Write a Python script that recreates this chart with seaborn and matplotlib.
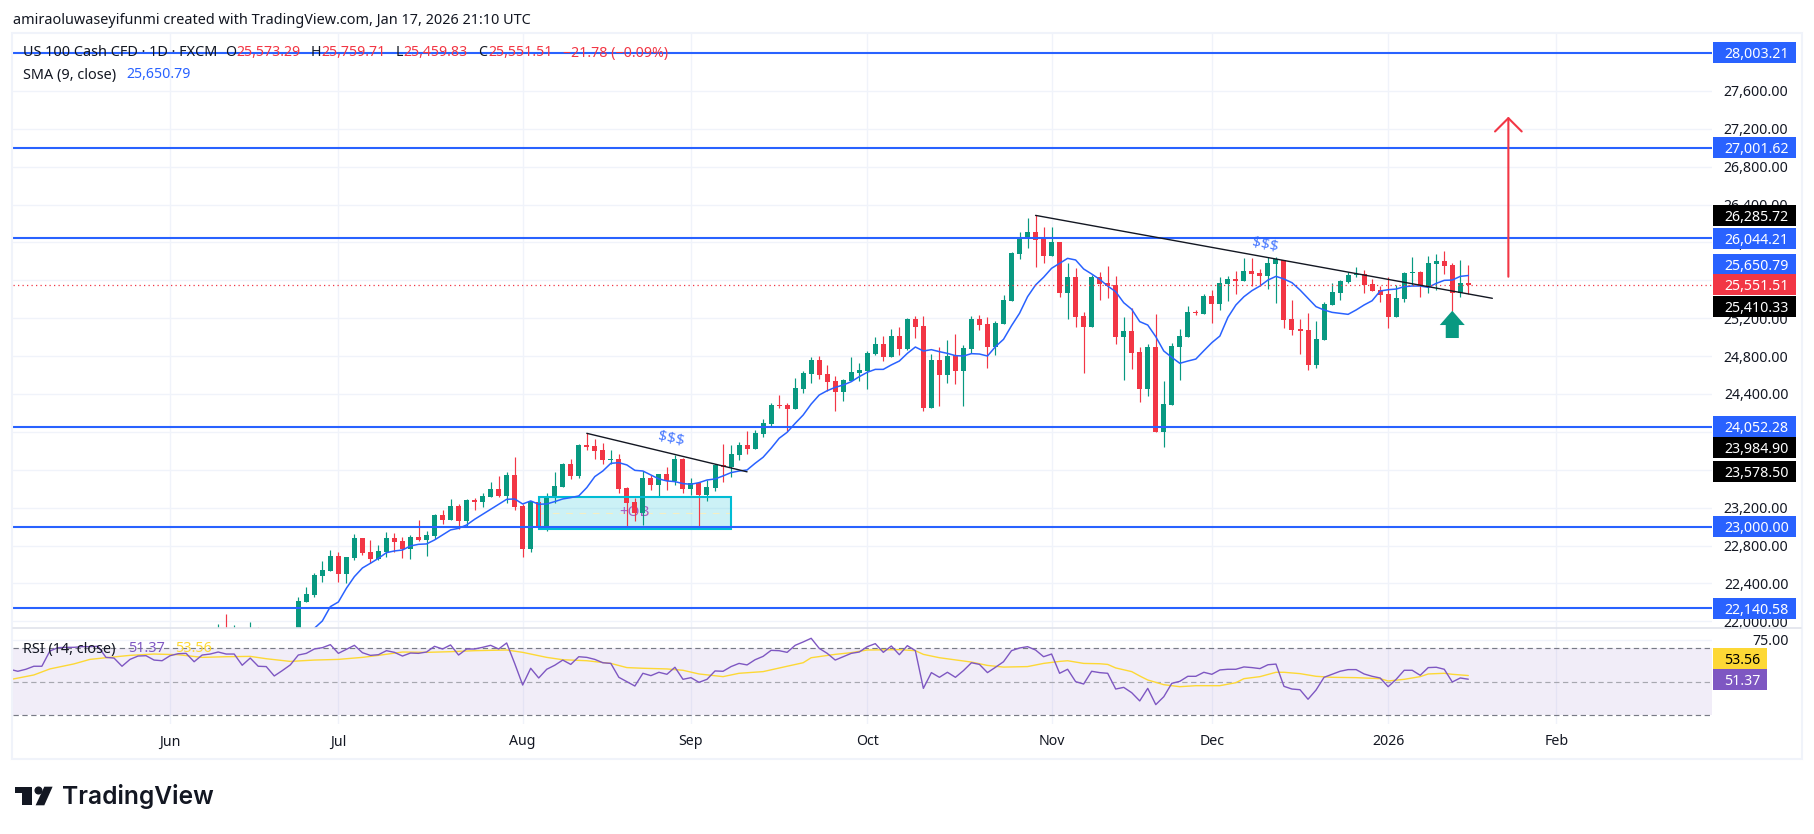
import matplotlib
matplotlib.use("Agg")
import matplotlib.pyplot as plt
import numpy as np
import pandas as pd
import seaborn as sns
from matplotlib.patches import Polygon, Rectangle

# daily candles; the first ten only peek above the pane bottom
first_bar = -10
opens = [21800, 21860, 21820, 21860, 21820, 21890, 21830, 21860, 21820, 21830,
         21900, 22208, 22278, 22479, 22532, 22690, 22500, 22669, 22880, 22732,
         22658, 22732, 22880, 22848, 22764, 22891, 22859, 22901, 23123, 23070,
         23218, 23060, 23281, 23260, 23313, 23397, 23324, 23545, 23218, 22764,
         23260, 22986, 23313, 23419, 23661, 23535, 23862, 23851, 23809, 23707,
         23714, 23408, 23260, 23144, 23514, 23440, 23556, 23482, 23714, 23397,
         23461, 23334, 23408, 23651, 23630, 23756, 23862, 23820, 23978, 24084,
         24284, 24284, 24242, 24453, 24612, 24759, 24612, 24538, 24421, 24538,
         24622, 24643, 24822, 24928, 24791, 25012, 24875, 25192, 25118, 24252,
         24759, 24601, 24812, 24643, 24875, 25192, 25139, 24896, 25139, 25382,
         25878, 26047, 26110, 26036, 25857, 26005, 25466, 25635, 25223, 25107,
         25635, 25572, 25551, 25002, 25065, 24843, 24453, 24896, 23999, 24284,
         24896, 25002, 25266, 25244, 25435, 25350, 25561, 25614, 25593, 25698,
         25677, 25646, 25772, 25815, 25192, 25086, 25076, 24706, 24970, 25340,
         25466, 25582, 25656, 25667, 25561, 25498, 25456, 25213, 25403, 25681,
         25688, 25540, 25772, 25804, 25762, 25466, 25573.29]
highs = [21972, 22078, 21958, 21900, 21993, 21937, 21910, 21905, 21900, 21905,
         22261, 22363, 22511, 22637, 22753, 22732, 22680, 22922, 22880, 22859,
         22806, 22943, 22933, 22891, 22912, 23070, 22954, 23133, 23176, 23292,
         23239, 23292, 23302, 23355, 23471, 23535, 23577, 23735, 23239, 23271,
         23313, 23355, 23577, 23672, 23714, 23872, 23985, 23925, 23883, 23809,
         23767, 23419, 23302, 23587, 23545, 23556, 23630, 23756, 23725, 23514,
         23471, 23492, 23661, 23872, 23862, 23894, 24010, 24020, 24133, 24305,
         24390, 24305, 24569, 24643, 24791, 24801, 24707, 24590, 24559, 24791,
         24727, 24854, 25002, 25012, 25086, 25107, 25202, 25223, 25223, 24822,
         24896, 24970, 25033, 24917, 25223, 25234, 25213, 25171, 25445, 25899,
         26110, 26258, 26285.72, 26163, 26163, 26005, 25783, 25730, 25266, 25656,
         25688, 25751, 25646, 25213, 25308, 24896, 24928, 25244, 24537, 24938,
         25086, 25329, 25287, 25456, 25498, 25635, 25646, 25698, 25836, 25836,
         25720, 25846, 25846, 25815, 25392, 25192, 25255, 25171, 25371, 25572,
         25603, 25688, 25741, 25709, 25614, 25540, 25635, 25551, 25688, 25846,
         25698, 25857, 25878, 25910, 25783, 25815, 25759.71]
lows = [21650, 21760, 21780, 21770, 21780, 21780, 21790, 21770, 21780, 21790,
        21860, 22208, 22261, 22419, 22532, 22419, 22409, 22648, 22701, 22616,
        22648, 22680, 22732, 22669, 22658, 22848, 22690, 22870, 23028, 23070,
        22975, 23007, 23176, 23207, 23313, 23313, 23250, 23176, 22680, 22732,
        22986, 22954, 23250, 23419, 23503, 23514, 23809, 23714, 23661, 23661,
        23355, 22975, 23060, 23017, 23387, 23324, 23387, 23440, 23355, 23334,
        22986, 23271, 23376, 23471, 23524, 23704, 23767, 23820, 23950, 24062,
        24252, 24010, 24242, 24411, 24516, 24559, 24432, 24221, 24326, 24538,
        24538, 24453, 24812, 24748, 24791, 24812, 24864, 24991, 24221, 24252,
        24273, 24516, 24505, 24273, 24833, 25076, 24674, 24812, 25139, 25382,
        25825, 25941, 25741, 25783, 25857, 25424, 25195, 25107, 24622, 25107,
        25392, 25413, 24928, 24548, 24664, 24315, 24379, 23999, 23840, 24284,
        24548, 25002, 25234, 25244, 25149, 25287, 25382, 25456, 25593, 25540,
        25540, 25508, 25361, 25097, 25023, 24822, 24653, 24674, 24970, 25340,
        25392, 25572, 25635, 25466, 25487, 25371, 25097, 25213, 25371, 25551,
        25424, 25466, 25498, 25667, 25276, 25424, 25459.83]
closes = [21850, 21800, 21870, 21810, 21880, 21830, 21880, 21820, 21870, 21880,
          22215, 22289, 22490, 22542, 22690, 22504, 22680, 22880, 22722, 22658,
          22743, 22880, 22838, 22764, 22891, 22859, 22912, 23123, 23070, 23218,
          23060, 23281, 23260, 23324, 23397, 23324, 23545, 23207, 22764, 23271,
          22986, 23324, 23429, 23661, 23535, 23862, 23841, 23799, 23704, 23714,
          23397, 23250, 23144, 23514, 23440, 23556, 23482, 23714, 23397, 23461,
          23334, 23419, 23651, 23630, 23767, 23862, 23820, 23989, 24090, 24284,
          24273, 24242, 24464, 24622, 24759, 24601, 24527, 24421, 24548, 24633,
          24654, 24833, 24928, 24791, 25012, 24875, 25192, 25107, 24252, 24759,
          24601, 24801, 24643, 24885, 25192, 25128, 24896, 25149, 25392, 25888,
          26057, 26110, 26026, 25857, 26005, 25466, 25635, 25213, 25107, 25635,
          25561, 25540, 25002, 25065, 24833, 24453, 24896, 23999, 24294, 24907,
          25012, 25266, 25259, 25435, 25350, 25572, 25614, 25593, 25698, 25667,
          25646, 25783, 25825, 25181, 25076, 25065, 24706, 24981, 25350, 25477,
          25593, 25656, 25667, 25551, 25487, 25445, 25213, 25413, 25677, 25688,
          25551, 25783, 25804, 25751, 25466, 25572, 25551.51]

# SMA (9), last 145 bars
sma = [21926, 22004, 22155, 22204, 22349, 22472, 22563, 22613, 22665, 22725,
       22743, 22753, 22796, 22813, 22817, 22859, 22912, 22965, 22982, 23017,
       23077, 23130, 23183, 23236, 23288, 23292, 23239, 23271, 23236, 23239,
       23264, 23292, 23306, 23324, 23412, 23528, 23587, 23668, 23675, 23651,
       23594, 23587, 23545, 23503, 23482, 23475, 23454, 23447, 23464, 23492,
       23503, 23535, 23570, 23587, 23598, 23668, 23732, 23827, 23932, 23996,
       24090, 24178, 24294, 24389, 24435, 24470, 24495, 24530, 24583, 24629,
       24660, 24660, 24707, 24748, 24829, 24896, 24854, 24868, 24847, 24829,
       24805, 24801, 24826, 24822, 24801, 24900, 24977, 25121, 25252, 25427,
       25551, 25632, 25727, 25779, 25832, 25815, 25720, 25667, 25610, 25540,
       25480, 25364, 25294, 25164, 25128, 25005, 24854, 24787, 24724, 24748,
       24769, 24857, 24942, 25012, 25209, 25340, 25427, 25491, 25540, 25603,
       25642, 25614, 25575, 25498, 25410, 25322, 25287, 25262, 25252, 25241,
       25287, 25340, 25385, 25487, 25501, 25508, 25533, 25540, 25540, 25526,
       25568, 25600, 25603, 25642, 25650.79]

# RSI (14), one value per bar starting at the left pane edge
rsi_first_bar = -36
rsi = [57.3, 56.1, 57.3, 59.1, 59.1, 68.2, 70.2, 70.4, 70.4, 70.8, 70.8, 71.0,
       64.4, 64.0, 59.1, 63.2, 65.2, 65.4, 62.8, 62.4, 65.4, 66.6, 66.8, 61.8,
       65.8, 66.4, 67.6, 66.4, 66.4, 59.7, 64.0, 59.1, 58.9, 53.3, 56.5, 59.9,
       65.8, 66.8, 69.4, 70.2, 72.0, 66.8, 69.2, 71.6, 67.2, 65.6, 66.0, 68.4,
       67.4, 65.2, 67.0, 66.8, 67.6, 71.0, 69.4, 71.8, 65.8, 69.4, 69.4, 70.4,
       71.6, 69.4, 73.0, 60.8, 47.9, 57.9, 52.1, 57.3, 59.7, 62.8, 60.2, 64.8,
       64.4, 63.2, 61.2, 60.8, 52.5, 49.9, 47.3, 54.9, 53.5, 55.5, 54.3, 58.5,
       51.3, 52.3, 49.5, 51.3, 56.3, 56.1, 58.9, 60.8, 59.9, 63.0, 65.0, 68.6,
       68.4, 67.4, 71.6, 73.6, 75.8, 69.8, 66.8, 62.8, 64.8, 66.8, 67.6, 70.8,
       72.6, 67.4, 71.2, 66.0, 71.4, 68.4, 45.9, 55.3, 52.5, 55.5, 52.5, 56.5,
       61.2, 60.2, 55.3, 58.5, 61.8, 68.4, 70.0, 70.8, 68.8, 64.8, 66.4, 54.9,
       57.3, 49.9, 48.5, 56.1, 55.3, 54.9, 45.5, 46.5, 43.3, 38.4, 45.9, 36.2,
       40.9, 48.9, 50.1, 53.1, 53.1, 55.5, 54.3, 56.9, 57.3, 57.3, 58.7, 58.3,
       57.7, 60.0, 60.4, 47.1, 45.5, 45.1, 39.4, 44.9, 52.5, 54.3, 56.1, 57.1,
       57.1, 54.5, 53.1, 52.1, 46.9, 51.3, 56.7, 56.7, 53.7, 58.3, 58.5, 57.3,
       49.7, 52.1, 51.37]

# RSI moving average, read at the bends of the smooth yellow line
rsi_ma_bars = [-36, -33, -31, -28, -26, -24, -21, -18, -15, -12, -9, -6, -4, -1,
               2, 5, 8, 10, 13, 16, 19, 22, 26, 28, 31, 33, 36, 39, 41, 43, 46,
               48, 50, 53, 55, 58, 61, 63, 64, 67, 69, 71, 75, 77, 78, 80, 84,
               86, 88, 91, 93, 95, 96, 98, 100, 101, 102, 104, 105, 106, 108,
               110, 112, 115, 117, 118, 120, 122, 123, 125, 127, 129, 132, 135,
               136, 138, 140, 141, 143, 144, 146]
rsi_ma = [51.1, 53.9, 57.5, 60.5, 63.2, 64.2, 65.6, 66.4, 66.0, 64.4, 64.8, 65.0,
          63.6, 62.0, 62.8, 63.2, 64.4, 65.6, 67.6, 67.4, 67.8, 68.4, 68.8, 67.4,
          64.4, 63.0, 62.4, 60.8, 58.3, 57.9, 57.5, 56.7, 54.5, 52.9, 54.9, 55.9,
          59.1, 61.2, 64.2, 66.2, 67.2, 68.8, 69.0, 68.4, 66.2, 64.2, 61.6, 59.6,
          58.6, 58.9, 60.8, 62.0, 62.4, 60.8, 60.6, 60.2, 58.1, 55.9, 53.3, 50.9,
          48.1, 46.9, 47.5, 47.5, 49.3, 51.7, 52.9, 55.5, 55.5, 54.7, 53.1, 52.5,
          52.3, 51.7, 50.3, 51.3, 52.9, 54.5, 54.9, 54.3, 53.56]

level_prices = [28003.21, 27001.62, 26044.21, 24052.28, 23000.00, 22140.58]
price_ticks = list(range(22000, 28000, 400))
month_bars = [-16, 5, 28, 49, 71, 94, 114, 136, 157]
month_labels = ["Jun", "Jul", "Aug", "Sep", "Oct", "Nov", "Dec", "2026", "Feb"]

last_price = 25551.51
trend_1 = ([36, 56], [23984.90, 23578.50])
trend_2 = ([92, 149], [26285.72, 25410.33])
ob_bars = (30, 54)
ob_prices = (22975, 23313)

GREEN = "#089981"
RED = "#f23645"
BLUE = "#2962ff"
PURPLE = "#7e57c2"
YELLOW = "#fdd835"
GRID = "#f0f3fa"
INK = "#131722"
W, H = 1815, 834
BAR_PX = 8.0137
PRICE_PX = 10.5574  # price units per pixel
RSI_PX = 1 / 1.675


def fx(x):
    return x / W


def fy(y):
    return 1 - y / H


sns.set_theme(style="white")
plt.rcParams["font.family"] = ["Noto Sans", "DejaVu Sans"]
plt.rcParams["font.size"] = 10.2

fig = plt.figure(figsize=(W / 100, H / 100), dpi=100, facecolor="white")
ax = fig.add_axes([fx(13), fy(628.3), 1699 / W, (628.3 - 33) / H])
ax_rsi = fig.add_axes([fx(13), fy(724), 1699 / W, (724 - 628.3) / H], sharex=ax)

bars = first_bar + np.arange(len(closes))
o, h, l, c = map(np.array, (opens, highs, lows, closes))
candle_colors = np.where(c >= o, GREEN, RED)

ax.vlines(bars, l, h, colors=candle_colors, linewidth=0.85, zorder=3)
ax.bar(bars, np.abs(c - o), bottom=np.minimum(o, c), width=5 / BAR_PX,
       color=candle_colors, linewidth=0, zorder=3.1)

sma_df = pd.DataFrame({"bar": bars[-len(sma):], "sma": sma})
sns.lineplot(data=sma_df, x="bar", y="sma", ax=ax, color=BLUE, linewidth=1.1,
             estimator=None, sort=False, legend=False, zorder=3.3)

# order block
ax.add_patch(Rectangle((ob_bars[0], ob_prices[0]), ob_bars[1] - ob_bars[0],
                       ob_prices[1] - ob_prices[0], facecolor="#00bcd4", alpha=0.2,
                       edgecolor="none", zorder=2))
ax.add_patch(Rectangle((ob_bars[0], ob_prices[0]), ob_bars[1] - ob_bars[0],
                       ob_prices[1] - ob_prices[0], facecolor="none",
                       edgecolor="#00bcd4", linewidth=1.5, zorder=3.2))
ax.plot(ob_bars, [sum(ob_prices) / 2] * 2, color="#f4efc4", linewidth=0.8,
        linestyle=(0, (6, 6)), zorder=2.1)
ax.text(sum(ob_bars) / 2, sum(ob_prices) / 2, "+OB", color="#9c27b0", alpha=0.75,
        fontsize=11, ha="center", va="center", zorder=2.5)

for price in level_prices:
    ax.axhline(price, color=BLUE, linewidth=1.5, zorder=3.5)
ax.axhline(last_price, color=RED, linewidth=0.9, linestyle=(0, (1, 2.6)), zorder=3.4)

ax.plot(*trend_1, color=INK, linewidth=1, zorder=3.6)
ax.plot(*trend_2, color=INK, linewidth=1, zorder=3.6)
ax.text(46.5, 23922, "$$$", color=BLUE, fontsize=11, rotation=-12, ha="center",
        va="center", alpha=0.85, zorder=3.6)
ax.text(120.6, 25973, "$$$", color=BLUE, fontsize=11, rotation=-12, ha="center",
        va="center", alpha=0.85, zorder=3.6)

ax.annotate("", xy=(151, 27328), xytext=(151, 25638), zorder=3.7,
            arrowprops=dict(arrowstyle="->,head_length=0.96,head_width=0.96", color=RED,
                            linewidth=1.5, shrinkA=0, shrinkB=0, mutation_scale=10))
ax.annotate("", xy=(144, 25279), xytext=(144, 24991), zorder=3.7,
            arrowprops=dict(arrowstyle="simple,head_length=1.03,head_width=1.8,tail_width=0.94",
                            color=GREEN, linewidth=0, shrinkA=0, shrinkB=0, mutation_scale=10))

ax.set_xlim((13 - 298.3) / BAR_PX, (1712 - 298.3) / BAR_PX)
ax.set_ylim(28003.21 - (628.3 - 52.7) * PRICE_PX, 28003.21 + (52.7 - 33) * PRICE_PX)
ax.set_xlabel("")
ax.set_ylabel("")
ax.set_yticks(price_ticks)
ax.set_yticklabels([f"{p:,.2f}" for p in price_ticks], ha="right")
ax.yaxis.tick_right()
ax.tick_params(axis="y", length=0, pad=55, labelsize=10.2, labelcolor=INK)
ax.tick_params(axis="x", length=0, labelbottom=False)
ax.grid(True, color=GRID, linewidth=1)
ax.set_axisbelow(True)
sns.despine(ax=ax, left=True, right=True, top=True, bottom=True)

# RSI pane
ax_rsi.axhspan(30, 70, color=PURPLE, alpha=0.1, linewidth=0, zorder=1)
for lev, col in ((70, "#787b86"), (50, "#a7a8b0"), (30, "#787b86")):
    ax_rsi.axhline(lev, color=col, linewidth=0.85, linestyle=(0, (4.5, 3)), zorder=2)
rsi_df = pd.DataFrame({"bar": rsi_first_bar + np.arange(len(rsi)), "rsi": rsi})
ma_df = pd.DataFrame({"bar": rsi_ma_bars, "ma": rsi_ma})
sns.lineplot(data=ma_df, x="bar", y="ma", ax=ax_rsi, color=YELLOW, linewidth=1,
             estimator=None, sort=False, legend=False, zorder=3)
sns.lineplot(data=rsi_df, x="bar", y="rsi", ax=ax_rsi, color=PURPLE, linewidth=1,
             estimator=None, sort=False, legend=False, zorder=3.1)
ax_rsi.set_ylim(50 - (724 - 681.5) * RSI_PX, 50 + (681.5 - 628.3) * RSI_PX)
ax_rsi.set_xlabel("")
ax_rsi.set_ylabel("")
ax_rsi.set_yticks([75])
ax_rsi.set_yticklabels(["75.00"], ha="right")
ax_rsi.yaxis.tick_right()
ax_rsi.tick_params(axis="y", length=0, pad=55, labelsize=10.2, labelcolor=INK)
ax_rsi.set_xticks(month_bars)
ax_rsi.set_xticklabels(month_labels)
ax_rsi.tick_params(axis="x", length=0, pad=7.5, labelsize=10.2, labelcolor=INK)
for tick in ax_rsi.get_xticklabels():
    if tick.get_text() == "2026":
        tick.set_fontweight("bold")
ax_rsi.grid(True, color=GRID, linewidth=1)
ax_rsi.set_axisbelow(True)
sns.despine(ax=ax_rsi, left=True, right=True, top=True, bottom=True)
ax.set_xticks(month_bars)
ax.tick_params(axis="x", length=0, labelbottom=False)

# price scale tags, placed where the tags sit after TradingView stacks them
tags = [(28003.21, "28,003.21", BLUE), (27001.62, "27,001.62", BLUE),
        (26285.72, "26,285.72", "black"), (26044.21, "26,044.21", BLUE),
        (25772, "25,650.79", BLUE), (25551.51, "25,551.51", RED),
        (25329, "25,410.33", "black"), (24052.28, "24,052.28", BLUE),
        (23830, "23,984.90", "black"), (23578.50, "23,578.50", "black"),
        (23000.00, "23,000.00", BLUE), (22140.58, "22,140.58", BLUE)]
tf = ax.get_yaxis_transform()
for price, label, col in tags:
    ax.add_patch(Rectangle((1.0006, price - 10.5 * PRICE_PX), 83 / 1699, 21 * PRICE_PX,
                           transform=tf, facecolor=col, edgecolor="none", clip_on=False, zorder=6))
    ax.text((1724 - 13) / 1699, price, label, transform=tf, color="white", fontsize=10.2,
            ha="left", va="center_baseline", clip_on=False, zorder=7)
tfr = ax_rsi.get_yaxis_transform()
for val, label, col, txt in ((63.6, "53.56", YELLOW, "black"), (51.3, "51.37", PURPLE, "white")):
    ax_rsi.add_patch(Rectangle((1.0006, val - 10.5 * RSI_PX), 54 / 1699, 21 * RSI_PX,
                               transform=tfr, facecolor=col, edgecolor="none", clip_on=False, zorder=6))
    ax_rsi.text((1724 - 13) / 1699, val, label, transform=tfr, color=txt, fontsize=10.2,
                ha="left", va="center_baseline", clip_on=False, zorder=7)


def legend_text(x, y, s, color=INK, size=10.4):
    return fig.text(fx(x), fy(y), s, color=color, fontsize=size, ha="left", va="center")


legend_text(13, 20, "amiraoluwaseyifunmi created with TradingView.com, Jan 17, 2026 21:10 UTC")
legend_text(23, 53, "US 100 Cash CFD · 1D · FXCM")
for x, s, col in ((225, "O", INK), (236, "25,573.29", RED), (311, "H", INK), (321, "25,759.71", RED),
                  (396, "L", INK), (403, "25,459.83", RED), (478, "C", INK), (488, "25,551.51", RED),
                  (563, "−21.78 (−0.09%)", RED)):
    legend_text(x, 53, s, col, 10.2)
legend_text(23, 75, "SMA (9, close)")
legend_text(126, 75, "25,650.79", BLUE, 10.2)
legend_text(23, 649, "RSI (14, close)")
legend_text(128, 649, "51.37", PURPLE)
legend_text(175, 649, "53.56", YELLOW)

# frame and pane separator
fig.add_artist(Rectangle((fx(12), fy(758.5)), 1790 / W, 725.5 / H, transform=fig.transFigure,
                         facecolor="none", edgecolor=GRID, linewidth=1.5))
fig.add_artist(plt.Line2D([fx(13), fx(1801)], [fy(628.3)] * 2, color="#e0e3eb", linewidth=1.2))

# TradingView logo
fig.add_artist(Polygon([(fx(a), fy(b)) for a, b in ((15, 786.7), (31.6, 786.7), (31.6, 805.3),
                                                    (22, 805.3), (22, 793.3), (15, 793.3))],
                       transform=fig.transFigure, facecolor="#131722", edgecolor="none"))
fig.add_artist(Polygon([(fx(a), fy(b)) for a, b in ((44.3, 786.7), (52.6, 786.7), (44.3, 805.3), (35.6, 805.3))],
                       transform=fig.transFigure, facecolor="#131722", edgecolor="none"))
fig.add_artist(plt.Line2D([fx(38.4)], [fy(790)], marker="o", markersize=4.8, color="#131722", linewidth=0))
fig.text(fx(62.5), fy(796.5), "TradingView", color="#131722", fontsize=17.7, fontweight="semibold",
         family=["Inter", "DejaVu Sans"], ha="left", va="center")

fig.savefig("out.png", dpi=100, facecolor="white")
